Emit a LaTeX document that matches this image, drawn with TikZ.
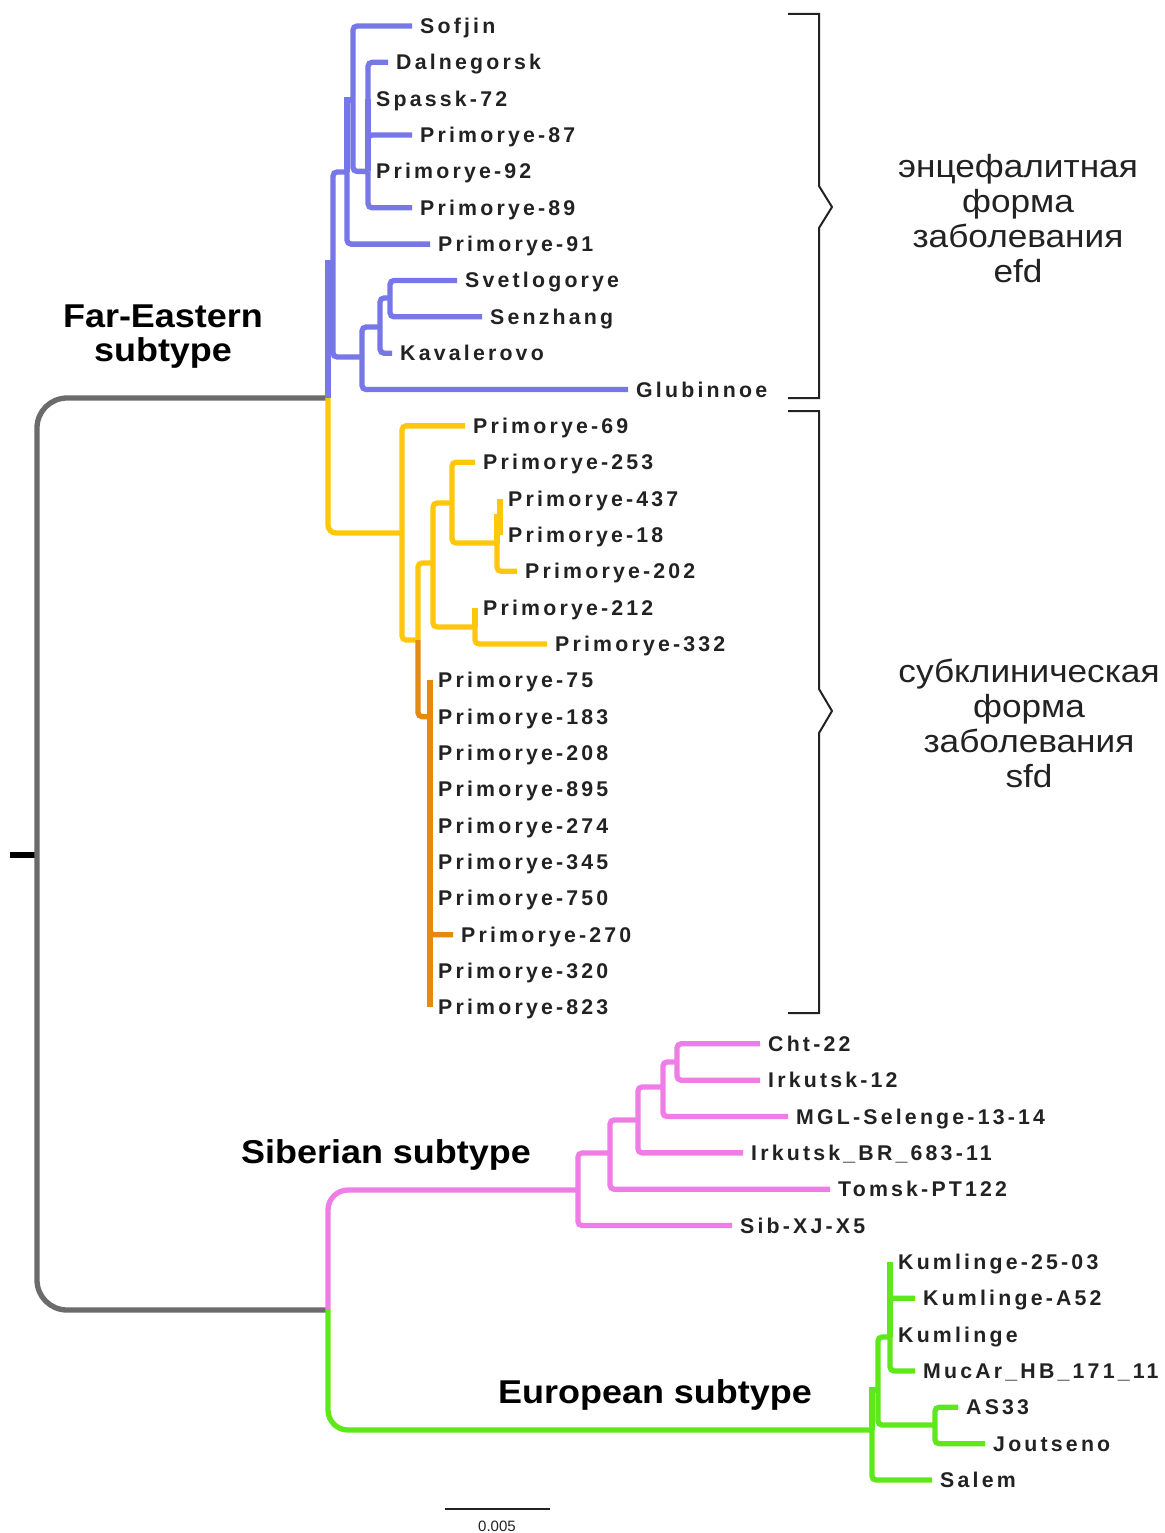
\documentclass[tikz,border=0pt]{standalone}
\usepackage{fontspec}
\setmainfont{Liberation Sans}
\newfontfamily\labfont[LetterSpace=15]{Liberation Sans}
\newfontfamily\bigfont[FakeStretch=1.09]{Liberation Sans}
\newfontfamily\rusfont[FakeStretch=1.1]{Liberation Sans}
\definecolor{fepurple}{HTML}{7777E8}
\definecolor{feyellow}{HTML}{FFC70B}
\definecolor{feorange}{HTML}{E8890F}
\definecolor{sibpink}{HTML}{EE7EE6}
\definecolor{eurgreen}{HTML}{5EE81A}
\definecolor{rootgray}{HTML}{6B6B6B}
\definecolor{labgray}{HTML}{222222}
\tikzset{
  br/.style={line width=5.3pt, rounded corners=4pt},
  brs/.style={line width=5.3pt, sharp corners},
  lab/.style={anchor=west, inner sep=0pt, xshift=8pt, text height=15pt, text depth=0pt,
    text=labgray, font=\labfont\bfseries\fontsize{21.3}{25}\selectfont},
  big/.style={align=center, inner sep=0pt, text=black, font=\bigfont\bfseries\fontsize{33}{34}\selectfont},
  rus/.style={align=center, inner sep=0pt, text=labgray, font=\rusfont\fontsize{32}{35}\selectfont},
  brack/.style={line width=2pt, draw=labgray}
}
% leaf with branch: name, parent, x, y, text, colour
\newcommand\lf[6]{%
  \coordinate (t#1) at (#3,#4);
  \draw[br,#6] (#2) |- (t#1);
  \node[lab] (n#1) at (t#1) {#5};}
% leaf of zero length
\newcommand\lz[6]{%
  \coordinate (t#1) at (#3,#4);
  \draw[brs,#6] (#2) |- (t#1);
  \node[lab] (n#1) at (t#1) {#5};}
\begin{document}
\begin{tikzpicture}[x=1pt,y=-1pt]
\fill[white] (0,0) rectangle (1164,1533);
\useasboundingbox (0,0) rectangle (1164,1533);

% ---- internal nodes
\coordinate (root) at (37,855);
\coordinate (tick) at (10,855);
\coordinate (FE) at (328,398);
\coordinate (SE) at (328,1310);
\coordinate (D) at (333,263);
\coordinate (C) at (347,172);
\coordinate (A) at (353,100);
\coordinate (B) at (368,171.4);
\coordinate (E) at (362,357);
\coordinate (F) at (380,327);
\coordinate (G) at (390,298);
\coordinate (Y1) at (402,533);
\coordinate (Y2) at (418,640);
\coordinate (Y3) at (433,563);
\coordinate (Y4) at (452,503);
\coordinate (Y5) at (497,543);
\coordinate (Y5a) at (500,517);
\coordinate (Y6) at (475,627);
\coordinate (O) at (430,716.65);
\coordinate (S1) at (578,1190);
\coordinate (S2) at (610,1153);
\coordinate (S3) at (638,1120);
\coordinate (S4) at (663,1087);
\coordinate (S5) at (677,1062);
\coordinate (G1) at (872,1430);
\coordinate (G2) at (878,1390);
\coordinate (G3) at (890,1337);
\coordinate (G4) at (935,1425);

% ---- root
\draw[line width=5.3pt, black] (tick) -- (root);
\draw[line width=5.3pt, rootgray, rounded corners=30pt] (root) |- (FE);
\draw[line width=5.3pt, rootgray, rounded corners=30pt] (root) |- (SE);

% ---- Far-Eastern: purple
\draw[brs,fepurple] (FE) |- (D);
\draw[br,fepurple] (D) |- (C);
\draw[br,fepurple] (D) |- (E);
\draw[brs,fepurple] (C) |- (A);
\draw[br,fepurple] (A) |- (B);
\draw[br,fepurple] (E) |- (F);
\draw[br,fepurple] (F) |- (G);
\lf{Sofjin}{A}{412}{26}{Sofjin}{fepurple}
\lf{Dal}{B}{388}{62.35}{Dalnegorsk}{fepurple}
\lz{Spassk}{B}{368}{98.7}{Spassk-72}{fepurple}
\lf{Pa}{B}{412}{135.05}{Primorye-87}{fepurple}
\lz{Pb}{B}{368}{171.4}{Primorye-92}{fepurple}
\lf{Pc}{B}{412}{207.75}{Primorye-89}{fepurple}
\lf{Pd}{C}{430}{244.1}{Primorye-91}{fepurple}
\lf{Svet}{G}{457}{280.45}{Svetlogorye}{fepurple}
\lf{Senz}{G}{482}{316.8}{Senzhang}{fepurple}
\lf{Kav}{F}{392}{353.15}{Kavalerovo}{fepurple}
\lf{Glub}{E}{628}{389.5}{Glubinnoe}{fepurple}

% ---- Far-Eastern: yellow
\draw[line width=5.3pt, rounded corners=8pt, feyellow] (FE) |- (Y1);
\draw[br,feyellow] (Y1) |- (Y2);
\draw[br,feyellow] (Y2) |- (Y3);
\draw[br,feorange] (Y2) |- (O);
\draw[br,feyellow] (Y3) |- (Y4);
\draw[br,feyellow] (Y3) |- (Y6);
\draw[br,feyellow] (Y4) |- (Y5);
\draw[brs,feyellow] (Y5) |- (Y5a);
\lf{Qa}{Y1}{465}{425.85}{Primorye-69}{feyellow}
\lf{Qb}{Y4}{475}{462.2}{Primorye-253}{feyellow}
\lz{Qc}{Y5a}{500}{498.55}{Primorye-437}{feyellow}
\lz{Qd}{Y5a}{500}{534.9}{Primorye-18}{feyellow}
\lf{Qe}{Y5}{517}{571.25}{Primorye-202}{feyellow}
\lz{Qf}{Y6}{475}{607.6}{Primorye-212}{feyellow}
\lf{Qg}{Y6}{547}{643.95}{Primorye-332}{feyellow}

% ---- Far-Eastern: orange
\lz{Ra}{O}{430}{680.3}{Primorye-75}{feorange}
\lz{Rb}{O}{430}{716.65}{Primorye-183}{feorange}
\lz{Rc}{O}{430}{753}{Primorye-208}{feorange}
\lz{Rd}{O}{430}{789.35}{Primorye-895}{feorange}
\lz{Re}{O}{430}{825.7}{Primorye-274}{feorange}
\lz{Rf}{O}{430}{862.05}{Primorye-345}{feorange}
\lz{Rg}{O}{430}{898.4}{Primorye-750}{feorange}
\lf{Rh}{O}{453}{934.75}{Primorye-270}{feorange}
\lz{Ri}{O}{430}{971.1}{Primorye-320}{feorange}
\lz{Rj}{O}{430}{1007.45}{Primorye-823}{feorange}

% ---- Siberian: pink
\draw[line width=5.3pt, rounded corners=20pt, sibpink] (SE) |- (S1);
\draw[br,sibpink] (S1) |- (S2);
\draw[br,sibpink] (S2) |- (S3);
\draw[br,sibpink] (S3) |- (S4);
\draw[br,sibpink] (S4) |- (S5);
\lf{Cht}{S5}{760}{1043.8}{Cht-22}{sibpink}
\lf{Irk}{S5}{760}{1080.15}{Irkutsk-12}{sibpink}
\lf{MGL}{S4}{788}{1116.5}{MGL-Selenge-13-14}{sibpink}
\lf{IrkBR}{S3}{743}{1152.85}{Irkutsk\_BR\_683-11}{sibpink}
\lf{Tomsk}{S2}{830}{1189.2}{Tomsk-PT122}{sibpink}
\lf{Sib}{S1}{732}{1225.55}{Sib-XJ-X5}{sibpink}

% ---- European: green
\draw[line width=5.3pt, rounded corners=20pt, eurgreen] (SE) |- (G1);
\draw[brs,eurgreen] (G1) |- (G2);
\draw[br,eurgreen] (G2) |- (G3);
\draw[br,eurgreen] (G2) |- (G4);
\lz{Ka}{G3}{890}{1261.9}{Kumlinge-25-03}{eurgreen}
\lf{Kb}{G3}{915}{1298.25}{Kumlinge-A52}{eurgreen}
\lz{Kc}{G3}{890}{1334.6}{Kumlinge}{eurgreen}
\lf{Kd}{G3}{915}{1370.95}{MucAr\_HB\_171\_11}{eurgreen}
\lf{AS}{G4}{958}{1407.3}{AS33}{eurgreen}
\lf{Jout}{G4}{985}{1443.65}{Joutseno}{eurgreen}
\lf{Salem}{G1}{932}{1480}{Salem}{eurgreen}

% ---- subtype labels
\node[big] (fe) at (163,337) {Far-Eastern\\subtype};
\node[big] (sib) at (386,1155) {Siberian subtype};
\node[big] (eur) at (655,1395) {European subtype};

% ---- brackets
\draw[brack] (788,14) -- (819,14) -- (819,186) -- (832,207) -- (819,228) -- (819,398) -- (788,398);
\draw[brack] (788,411) -- (819,411) -- (819,689) -- (832,711) -- (819,733) -- (819,1013) -- (788,1013);
\node[rus] (efd) at (1018,219) {энцефалитная\\форма\\заболевания\\efd};
\node[rus] (sfd) at (1029,723) {субклиническая\\форма\\заболевания\\sfd};

% ---- scale bar
\coordinate (sb1) at (445,1509);
\coordinate (sb2) at (550,1509);
\draw[line width=1.5pt, labgray] (sb1) -- (sb2);
\node[inner sep=0pt, text=labgray, font=\fontsize{15}{17}\selectfont] (sbl) at (497,1526) {0.005};
\end{tikzpicture}
\end{document}
